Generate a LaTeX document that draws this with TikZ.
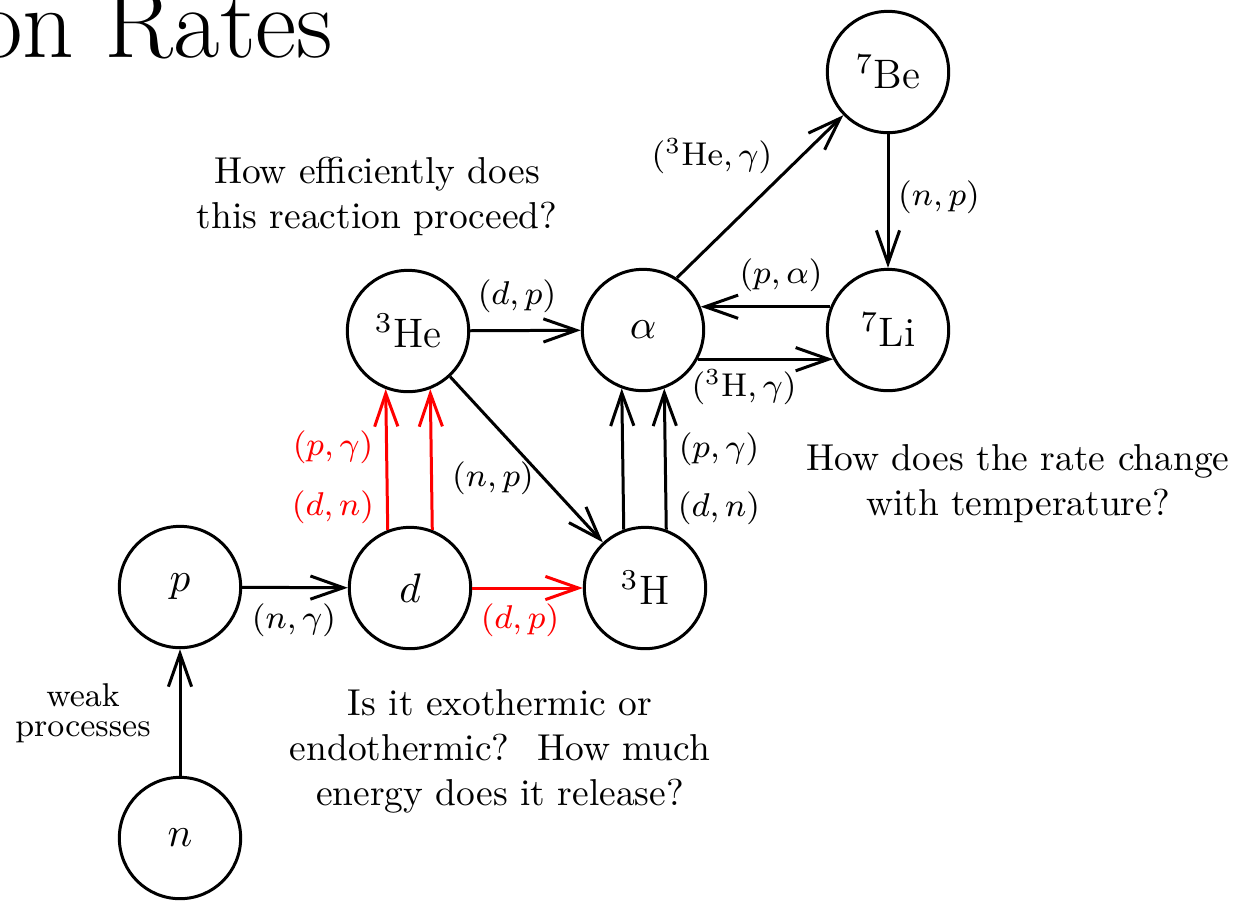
\RequirePackage{fix-cm}
\documentclass[tikz,border=0pt]{standalone}
\usetikzlibrary{arrows.meta}
\begin{document}
\begin{tikzpicture}[x=0.267pt,y=-0.267pt,
  nuc/.style={circle,draw,line width=0.8pt,minimum size=32.4pt,inner sep=0pt,font=\fontsize{11}{13}\selectfont},
  rxn/.style={font=\fontsize{8.8}{10.5}\selectfont},
  note/.style={align=center,font=\fontsize{10}{12}\selectfont},
  flow/.style={line width=0.8pt,-{Straight Barb[length=8.8pt,width=6.2pt]}},
  hot/.style={flow,red}]
\useasboundingbox (0,0) rectangle (1237,901);
\node[anchor=base east,inner sep=0pt,font=\fontsize{27}{32}\selectfont] (title) at (334,57) {on Rates};
% nuclei
\node[nuc] (n) at (180,838) {$n$};
\node[nuc] (p) at (180,587) {$p$};
\node[nuc] (d) at (410,588) {$d$};
\node[nuc] (H3) at (645,588) {$^3$H};
\node[nuc] (He3) at (408,331) {$^3$He};
\node[nuc] (alpha) at (643,330) {$\alpha$};
\node[nuc] (Li7) at (888,330) {$^7$Li};
\node[nuc] (Be7) at (888,72) {$^7$Be};
% reactions
\draw[flow] (n) -- (p);
\draw[flow] (p) -- (d);
\draw[hot] (d) -- (H3);
\draw[hot] (d.111) -- (He3.249);
\draw[hot] (d.69) -- (He3.291);
\draw[flow] (He3) -- (alpha);
\draw[flow] (He3) -- (H3);
\draw[flow] (H3.110) -- (alpha.250);
\draw[flow] (H3.70) -- (alpha.290);
\draw[flow] (alpha.57) -- (Be7.224);
\draw[flow] (Be7) -- (Li7);
\draw[flow] (Li7.158) -- (alpha.22);
\draw[flow] (alpha.-28) -- (Li7.208);
% labels
\node[rxn,align=center,font=\fontsize{8.8}{8}\selectfont] (lweak) at (83,713) {weak\\processes};
\node[rxn] (lng) at (294,620) {$(n,\gamma)$};
\node[rxn,red] (ldp1) at (520,620) {$(d,p)$};
\node[rxn,red] (lpg1) at (333,447) {$(p,\gamma)$};
\node[rxn,red] (ldn1) at (333,507) {$(d,n)$};
\node[rxn] (lnp1) at (493,478) {$(n,p)$};
\node[rxn] (ldp2) at (517,296) {$(d,p)$};
\node[rxn] (lpg2) at (719,449) {$(p,\gamma)$};
\node[rxn] (ldn2) at (719,508) {$(d,n)$};
\node[rxn] (lheg) at (712,156) {$({}^3\mathrm{He},\gamma)$};
\node[rxn] (lnp2) at (939,197) {$(n,p)$};
\node[rxn] (lpa) at (781,275) {$(p,\alpha)$};
\node[rxn] (lhg) at (744,387) {$({}^3\mathrm{H},\gamma)$};
% questions
\node[note] (qeff) at (377,196) {How efficiently does\\this reaction proceed?};
\node[note] (qtemp) at (1018,484) {How does the rate change\\with temperature?};
\node[note] (qheat) at (500,751) {Is it exothermic or\\endothermic?\hspace{3pt} How much\\energy does it release?};
\end{tikzpicture}
\end{document}
